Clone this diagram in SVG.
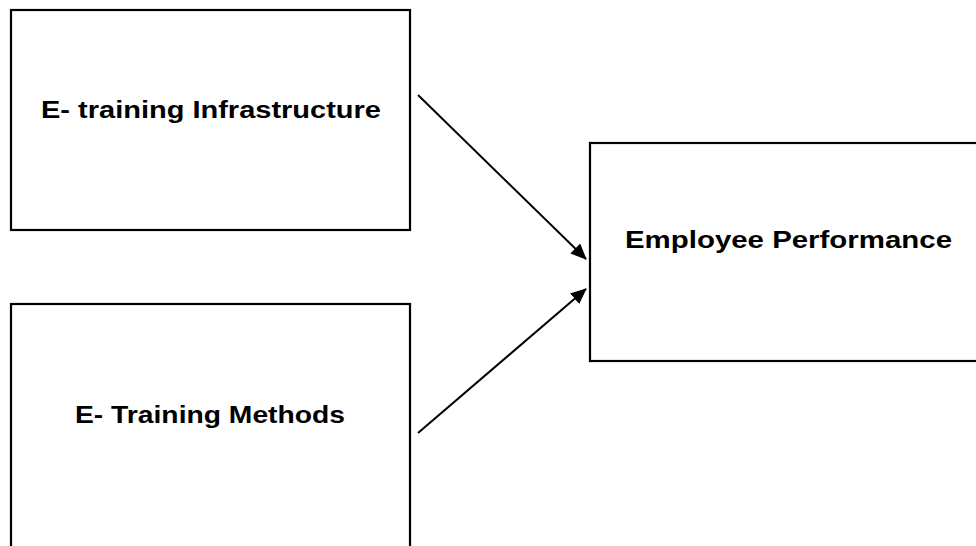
<svg xmlns="http://www.w3.org/2000/svg" width="976" height="546" viewBox="0 0 976 546">
  <style>
    .box { fill: #ffffff; stroke: #000000; stroke-width: 2.2; }
    .lbl { font-family: "Liberation Sans", Arial, sans-serif; font-weight: bold; font-size: 23px; fill: #000000; }
    .conn { stroke: #000000; stroke-width: 2; fill: none; marker-end: url(#arrow); }
  </style>
  <defs>
    <marker id="arrow" markerWidth="16" markerHeight="14" refX="15" refY="7" orient="auto" markerUnits="userSpaceOnUse" viewBox="0 0 16 14">
      <path d="M0,0 L16,7 L0,14 z" fill="#000000"/>
    </marker>
  </defs>
  <rect width="976" height="546" fill="#ffffff"/>
  <g id="node-infrastructure">
    <rect class="box" x="11" y="10" width="399" height="220"/>
    <text class="lbl" x="41" y="118" textLength="340" lengthAdjust="spacingAndGlyphs">E- training Infrastructure</text>
  </g>
  <g id="node-methods">
    <rect class="box" x="11" y="304" width="399" height="260"/>
    <text class="lbl" x="75" y="423" textLength="270" lengthAdjust="spacingAndGlyphs">E- Training Methods</text>
  </g>
  <g id="node-performance">
    <rect class="box" x="590" y="143" width="400" height="218"/>
    <text class="lbl" x="625" y="248" textLength="327" lengthAdjust="spacingAndGlyphs">Employee Performance</text>
  </g>
  <g id="connectors">
    <line class="conn" x1="418" y1="95" x2="586" y2="259"/>
    <line class="conn" x1="418" y1="433" x2="586" y2="289"/>
  </g>
</svg>
